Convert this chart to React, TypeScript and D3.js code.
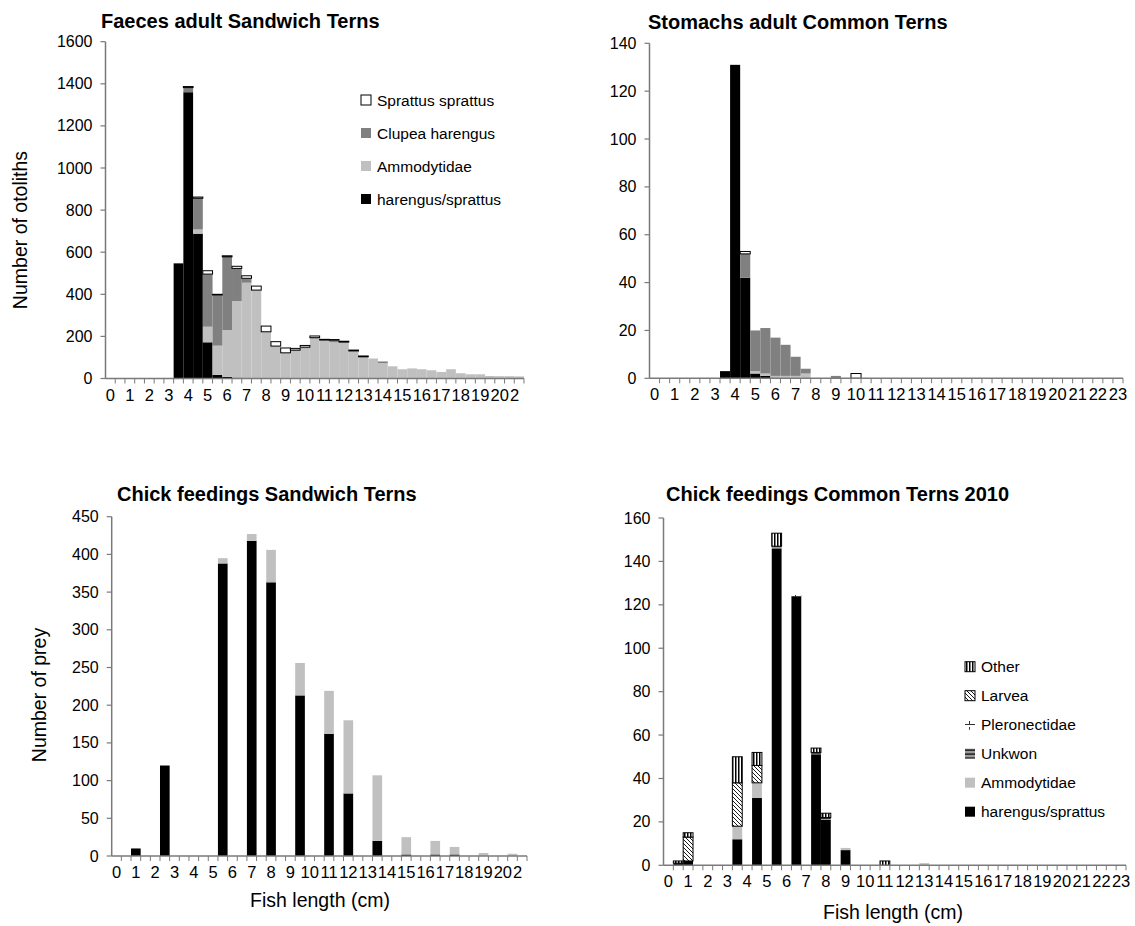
import React from "react";
import * as d3 from "d3";

const FONT = "'Liberation Sans', Arial, Helvetica, sans-serif";

// ---------- categories (fish length, cm, half-cm bins) ----------
const lengths21 = ["0","0.5","1","1.5","2","2.5","3","3.5","4","4.5","5","5.5","6","6.5","7","7.5","8","8.5","9","9.5","10","10.5","11","11.5","12","12.5","13","13.5","14","14.5","15","15.5","16","16.5","17","17.5","18","18.5","19","19.5","20","20.5","21"];
const lengths23 = ["0","0.5","1","1.5","2","2.5","3","3.5","4","4.5","5","5.5","6","6.5","7","7.5","8","8.5","9","9.5","10","10.5","11","11.5","12","12.5","13","13.5","14","14.5","15","15.5","16","16.5","17","17.5","18","18.5","19","19.5","20","20.5","21","21.5","22","22.5","23"];
const xLabels21 = ["0","1","2","3","4","5","6","7","8","9","10","11","12","13","14","15","16","17","18","19","20","21"];
const xLabels23 = ["0","1","2","3","4","5","6","7","8","9","10","11","12","13","14","15","16","17","18","19","20","21","22","23"];

// ---------- y ticks ----------
const yTicksTL = [0,200,400,600,800,1000,1200,1400,1600];
const yTicksTR = [0,20,40,60,80,100,120,140];
const yTicksBL = [0,50,100,150,200,250,300,350,400,450];
const yTicksBR = [0,20,40,60,80,100,120,140,160];

// ---------- Faeces adult Sandwich Terns (43 bins) ----------
const harengusTL = [0,0,0,0,0,0,0,547,1360,688,172,17,8,4,2,0,0,0,0,0,0,0,0,0,0,0,0,0,0,0,0,0,0,0,0,0,0,0,0,0,0,0,0];
const ammodytidaeTL = [0,0,0,0,0,0,0,0,0,20,74,139,222,364,453,420,222,154,122,130,143,190,180,172,170,131,103,95,73,58,44,48,44,39,31,44,25,20,20,12,11,11,10];
const clupeaTL = [0,0,0,0,0,0,0,0,22,148,250,241,348,155,21,0,0,0,0,5,6,4,3,10,3,0,0,0,8,0,0,0,0,0,0,0,0,0,0,0,0,0,0];
const sprattusTL = [0,0,0,0,0,0,0,0,5,6,16,3,5,10,12,19,27,21,23,8,8,8,3,3,4,4,4,0,0,0,0,0,0,0,0,0,0,0,0,0,0,0,0];

// ---------- Stomachs adult Common Terns (47 bins) ----------
const harengusTR = [0,0,0,0,0,0,0,3,131,42,2,1,0,0,0,0,0,0,0,0,0,0,0,0,0,0,0,0,0,0,0,0,0,0,0,0,0,0,0,0,0,0,0,0,0,0,0];
const ammodytidaeTR = [0,0,0,0,0,0,0,0,0,0,1,1,1,1,1,2,0,0,0,0,0,0,0,0,0,0,0,0,0,0,0,0,0,0,0,0,0,0,0,0,0,0,0,0,0,0,0];
const clupeaTR = [0,0,0,0,0,0,0,0,0,10,17,19,16,13,8,2,0,0,1,0,0,0,0,0,0,0,0,0,0,0,0,0,0,0,0,0,0,0,0,0,0,0,0,0,0,0,0];
const sprattusTR = [0,0,0,0,0,0,0,0,0,1,0,0,0,0,0,0,0,0,0,0,2,0,0,0,0,0,0,0,0,0,0,0,0,0,0,0,0,0,0,0,0,0,0,0,0,0,0];

// ---------- Chick feedings Sandwich Terns (43 bins) ----------
const harengusBL = [0,0,10,0,0,120,0,0,0,0,0,388,0,0,418,0,363,0,0,213,0,0,162,0,83,0,0,20,0,0,2,0,0,2,0,2,0,0,0,0,0,0,0];
const ammodytidaeBL = [0,0,0,0,0,0,0,0,0,0,0,7,0,0,9,0,43,0,0,43,0,0,57,0,97,0,0,87,0,0,23,0,0,18,0,10,0,0,4,0,0,3,0];

// ---------- Chick feedings Common Terns 2010 (47 bins) ----------
const harengusBR = [0,1,2,0,0,0,0,12,0,31,0,146,0,124,0,51,21,0,7,0,0,0,0,0,0,0,0,0,0,0,0,0,0,0,0,0,0,0,0,0,0,0,0,0,0,0,0];
const ammodytidaeBR = [0,0,0,0,0,0,0,6,0,7,0,0,0,0,0,0,0,0,1,0,0,0,0,0,0,0,1,0,0,0,0,0,0,0,0,0,0,0,0,0,0,0,0,0,0,0,0];
const unkwonBR = [0,0,0,0,0,0,0,0,0,0,0,1,0,0,0,1,1,0,0,0,0,0,0,0,0,0,0,0,0,0,0,0,0,0,0,0,0,0,0,0,0,0,0,0,0,0,0];
const pleronectidaeBR = [0,0,0,0,0,0,0,0,0,0,0,0,0,1,0,0,0,0,0,0,0,0,0,0,0,0,0,0,0,0,0,0,0,0,0,0,0,0,0,0,0,0,0,0,0,0,0];
const larveaBR = [0,0,11,0,0,0,0,20,0,8,0,0,0,0,0,0,0,0,0,0,0,0,0,0,0,0,0,0,0,0,0,0,0,0,0,0,0,0,0,0,0,0,0,0,0,0,0];
const otherBR = [0,1,2,0,0,0,0,12,0,6,0,6,0,0,0,2,2,0,0,0,0,0,2,0,0,0,0,0,0,0,0,0,0,0,0,0,0,0,0,0,0,0,0,0,0,0,0];

type Series = { name: string; values: number[]; fill: string; stroke?: string };

const C_BLACK = "#000000";
const C_AMMO = "#c0c0c0";
const C_CLUPEA = "#808080";
const AXIS = "#7a7a7a";

interface ChartProps {
  id: string;
  title: string;
  titleX: number;
  titleY: number;
  x0: number;
  x1: number;
  yTop: number;
  yBottom: number;
  cats: string[];
  xLabels: string[];
  labelClipExtra: number;
  yTicks: number[];
  series: Series[];
  yTitle?: string;
  yTitleX?: number;
  yTitleY?: number;
  xTitle?: string;
  xTitleX?: number;
  xTitleY?: number;
  legend?: { x: number; y: number; gap: number; items: Series[] };
}

function StackedChart(p: ChartProps) {
  const x = d3.scaleBand<string>().domain(p.cats).range([p.x0, p.x1]).padding(0);
  const y = d3.scaleLinear().domain([0, p.yTicks[p.yTicks.length - 1]]).range([p.yBottom, p.yTop]);
  const bw = x.bandwidth();
  const rows = p.cats.map((c, i) => {
    const r: Record<string, any> = { cat: c };
    p.series.forEach((s) => (r[s.name] = s.values[i]));
    return r;
  });
  const stacked = d3.stack<Record<string, any>>().keys(p.series.map((s) => s.name))(rows);
  const clipId = `clip-${p.id}`;
  return (
    <g>
      <defs>
        <clipPath id={clipId}>
          <rect x={p.x0 - 20} y={p.yBottom} width={p.x1 - p.x0 + 20 + p.labelClipExtra} height={40} />
        </clipPath>
      </defs>
      <text x={p.titleX} y={p.titleY} fontFamily={FONT} fontWeight="bold" fontSize={20} fill="#000">
        {p.title}
      </text>
      {stacked.map((layer, li) => {
        const s = p.series[li];
        return (
          <g key={s.name}>
            {layer.map((d, j) => {
              if (d[1] - d[0] <= 0) return null;
              const yy = y(d[1]);
              const h = y(d[0]) - y(d[1]);
              return (
                <rect
                  key={j}
                  x={x(p.cats[j])!}
                  y={yy}
                  width={bw}
                  height={h}
                  fill={s.fill}
                  stroke={s.stroke || "none"}
                  strokeWidth={s.stroke ? 1 : 0}
                />
              );
            })}
          </g>
        );
      })}
      {/* y axis */}
      <line x1={p.x0} x2={p.x0} y1={p.yTop} y2={p.yBottom} stroke={AXIS} strokeWidth={1.5} />
      {p.yTicks.map((t) => (
        <g key={t}>
          <line x1={p.x0 - 5} x2={p.x0} y1={y(t)} y2={y(t)} stroke={AXIS} strokeWidth={1.2} />
          <text x={p.x0 - 13} y={y(t) + 5.5} textAnchor="end" fontFamily={FONT} fontSize={16} fill="#000">
            {t}
          </text>
        </g>
      ))}
      {/* x axis */}
      <line x1={p.x0} x2={p.x1} y1={p.yBottom} y2={p.yBottom} stroke={AXIS} strokeWidth={1.5} />
      {p.cats.map((c, i) => (
        <line key={c} x1={p.x0 + (i + 1) * bw} x2={p.x0 + (i + 1) * bw} y1={p.yBottom} y2={p.yBottom + 5} stroke={AXIS} strokeWidth={1} />
      ))}
      <g clipPath={`url(#${clipId})`}>
        {p.xLabels.map((l) => (
          <text
            key={l}
            x={x(l)! + bw / 2}
            y={p.yBottom + 22}
            textAnchor="middle"
            fontFamily={FONT}
            fontSize={16.5}
            fill="#000"
          >
            {l}
          </text>
        ))}
      </g>
      {p.yTitle && (
        <text
          transform={`translate(${p.yTitleX},${p.yTitleY}) rotate(-90)`}
          textAnchor="middle"
          fontFamily={FONT}
          fontSize={19.5}
          fill="#000"
        >
          {p.yTitle}
        </text>
      )}
      {p.xTitle && (
        <text x={p.xTitleX} y={p.xTitleY} textAnchor="middle" fontFamily={FONT} fontSize={19.5} fill="#000">
          {p.xTitle}
        </text>
      )}
      {p.legend &&
        p.legend.items.map((it, i) => {
          const cy = p.legend!.y + i * p.legend!.gap;
          return (
            <g key={it.name}>
              <rect
                x={p.legend!.x}
                y={cy - 5}
                width={10}
                height={10}
                fill={it.fill}
                stroke={it.stroke || "none"}
                strokeWidth={it.stroke ? 1 : 0}
              />
              <text x={p.legend!.x + 16} y={cy + 5.5} fontFamily={FONT} fontSize={15.5} fill="#000">
                {it.name}
              </text>
            </g>
          );
        })}
    </g>
  );
}

export default function App() {
  const sTL: Series[] = [
    { name: "harengus/sprattus", values: harengusTL, fill: C_BLACK },
    { name: "Ammodytidae", values: ammodytidaeTL, fill: C_AMMO },
    { name: "Clupea harengus", values: clupeaTL, fill: C_CLUPEA },
    { name: "Sprattus sprattus", values: sprattusTL, fill: "#ffffff", stroke: "#000" },
  ];
  const sTR: Series[] = [
    { name: "harengus/sprattus", values: harengusTR, fill: C_BLACK },
    { name: "Ammodytidae", values: ammodytidaeTR, fill: C_AMMO },
    { name: "Clupea harengus", values: clupeaTR, fill: C_CLUPEA },
    { name: "Sprattus sprattus", values: sprattusTR, fill: "#ffffff", stroke: "#000" },
  ];
  const sBL: Series[] = [
    { name: "harengus/sprattus", values: harengusBL, fill: C_BLACK },
    { name: "Ammodytidae", values: ammodytidaeBL, fill: C_AMMO },
  ];
  const sBR: Series[] = [
    { name: "harengus/sprattus", values: harengusBR, fill: C_BLACK },
    { name: "Ammodytidae", values: ammodytidaeBR, fill: C_AMMO },
    { name: "Unkwon", values: unkwonBR, fill: "url(#pUnk)" },
    { name: "Pleronectidae", values: pleronectidaeBR, fill: "url(#pPlero)" },
    { name: "Larvea", values: larveaBR, fill: "url(#pLarvea)", stroke: "#000" },
    { name: "Other", values: otherBR, fill: "url(#pOther)", stroke: "#000" },
  ];
  return (
    <svg width={1135} height={926} style={{ display: "block", position: "absolute", left: 0, top: 0, background: "#fff" }}>
      <defs>
        <pattern id="pOther" width={3} height={3} patternUnits="userSpaceOnUse">
          <rect width={3} height={3} fill="#fff" />
          <rect x={0} y={0} width={1.5} height={3} fill="#000" />
        </pattern>
        <pattern id="pLarvea" width={4} height={4} patternUnits="userSpaceOnUse">
          <rect width={4} height={4} fill="#fff" />
          <path d="M-1,-1 L5,5 M-1,3 L1,5 M3,-1 L5,1" stroke="#000" strokeWidth={0.9} />
        </pattern>
        <pattern id="pPlero" width={6} height={6} patternUnits="userSpaceOnUse">
          <rect width={6} height={6} fill="#fff" />
          <path d="M0,4.5 H6 M3.5,1 V4.5" stroke="#333" strokeWidth={1} />
        </pattern>
        <pattern id="pUnk" width={4} height={4} patternUnits="userSpaceOnUse">
          <rect width={4} height={4} fill="#9a9a9a" />
          <rect x={0} y={1.5} width={4} height={1.2} fill="#000" />
        </pattern>
      </defs>
      <rect width={1135} height={926} fill="#fff" />
      <StackedChart
        id="tl"
        title="Faeces adult Sandwich Terns"
        titleX={101}
        titleY={28}
        x0={105.5}
        x1={524}
        yTop={41.7}
        yBottom={378.5}
        cats={lengths21}
        xLabels={xLabels21}
        labelClipExtra={-4}
        yTicks={yTicksTL}
        series={sTL}
        yTitle="Number of otoliths"
        yTitleX={27}
        yTitleY={230}
        legend={{ x: 361, y: 100, gap: 33, items: [...sTL].reverse() }}
      />
      <StackedChart
        id="tr"
        title="Stomachs adult Common Terns"
        titleX={648}
        titleY={28.5}
        x0={649.5}
        x1={1123}
        yTop={43.3}
        yBottom={378.3}
        cats={lengths23}
        xLabels={xLabels23}
        labelClipExtra={12}
        yTicks={yTicksTR}
        series={sTR}
      />
      <StackedChart
        id="bl"
        title="Chick feedings Sandwich Terns"
        titleX={117}
        titleY={501}
        x0={111.7}
        x1={527}
        yTop={516.7}
        yBottom={856}
        cats={lengths21}
        xLabels={xLabels21}
        labelClipExtra={-4}
        yTicks={yTicksBL}
        series={sBL}
        yTitle="Number of prey"
        yTitleX={46}
        yTitleY={695}
        xTitle="Fish length (cm)"
        xTitleX={320}
        xTitleY={907}
      />
      <StackedChart
        id="br"
        title="Chick feedings Common Terns 2010"
        titleX={666}
        titleY={501}
        x0={663.5}
        x1={1126}
        yTop={518}
        yBottom={865.3}
        cats={lengths23}
        xLabels={xLabels23}
        labelClipExtra={12}
        yTicks={yTicksBR}
        series={sBR}
        xTitle="Fish length (cm)"
        xTitleX={893}
        xTitleY={919}
        legend={{ x: 965, y: 666.7, gap: 29, items: [...sBR].reverse() }}
      />
    </svg>
  );
}
